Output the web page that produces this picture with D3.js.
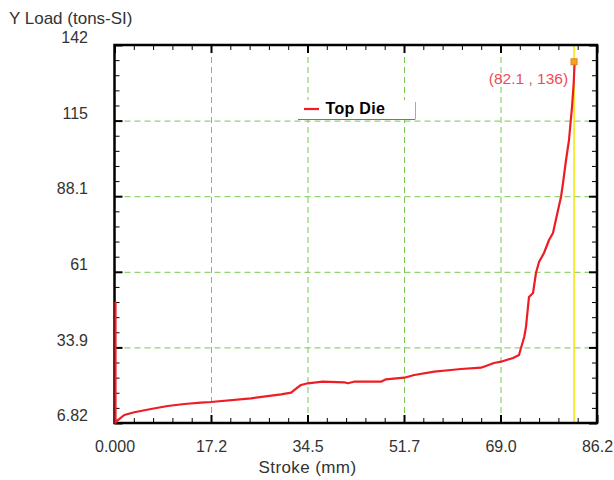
<!doctype html>
<html lang="en">
<head>
  <meta charset="utf-8">
  <style>
    body { margin: 0; background: #fff; }
    svg text { font-family: "Liberation Sans", Arial, sans-serif; }
  </style>
</head>
<body>
  <script src="https://d3js.org/d3.v7.min.js"></script>
  <div id="chart"></div>
  <script>
  // tick labels
  var xTicks = [0, 17.24, 34.48, 51.72, 68.96, 86.2];
  var xTickLabels = ["0.000", "17.2", "34.5", "51.7", "69.0", "86.2"];
  var yTicks = [6.82, 33.856, 60.892, 87.928, 114.964, 142];
  var yTickLabels = ["6.82", "33.9", "61", "88.1", "115", "142"];

  // Top Die curve: stroke (mm) vs load (tons-SI)
  var stroke = [0, 0, 0.09, 1.57, 3.36, 6.34, 9.33, 12.30, 15.27, 17.06, 24.21,
    29.58, 31.37, 32.55, 33.14, 34.34, 37.02, 40.88, 41.48, 42.61, 47.43, 48.33,
    51.59, 53.38, 56.95, 59.94, 61.72, 65.30, 67.62, 68.87, 71.01, 72.09, 72.44,
    73.03, 73.34, 73.87, 74.59, 75.12, 75.66, 76.55, 77.45, 78.16, 79.06, 79.59,
    79.95, 80.49, 81.02, 81.56, 81.86, 82.0, 82.1];
  var load = [50.2, 6.9, 7.28, 9.68, 10.65, 11.83, 12.90, 13.62, 14.08, 14.33, 15.65,
    17.08, 17.66, 19.59, 20.41, 21.02, 21.59, 21.38, 21.02, 21.59, 21.59, 22.45,
    23.02, 23.99, 25.17, 25.77, 26.13, 26.60, 28.28, 28.74, 30.07, 31.14, 33.64,
    37.68, 41.26, 51.88, 53.31, 60.46, 64.40, 67.62, 72.26, 74.77, 83.00, 87.64,
    92.65, 100.88, 108.03, 119.93, 128.3, 134.85, 136];

  var seriesName = "Top Die";
  var cursorX = 82.1, cursorY = 136;

  var width = 614, height = 480;
  var margin = {top: 45, right: 17, bottom: 57, left: 114.5};
  var w = width - margin.left - margin.right,
      h = height - margin.top - margin.bottom;

  var svg = d3.select("#chart").append("svg")
      .attr("width", width)
      .attr("height", height);

  var x = d3.scaleLinear().domain([0, 86.2]).range([0, w]);
  var y = d3.scaleLinear().domain([6.82, 142]).range([h, 0]);

  var g = svg.append("g")
      .attr("transform", "translate(" + margin.left + "," + margin.top + ")");

  // minor tick positions (5 divisions per major)
  var xMinor = [], yMinor = [];
  for (var i = 0; i < xTicks.length - 1; i++) {
    for (var j = 1; j < 5; j++) {
      xMinor.push(xTicks[i] + (xTicks[i + 1] - xTicks[i]) * j / 5);
      yMinor.push(yTicks[i] + (yTicks[i + 1] - yTicks[i]) * j / 5);
    }
  }

  // grid
  var gridCol = "#78c850";
  g.append("g")
    .attr("class", "grid")
    .attr("transform", "translate(0," + h + ")")
    .call(d3.axisBottom(x).tickValues(xTicks.slice(1, -1)).tickSize(-h).tickFormat(""))
    .call(function(s) { s.select(".domain").remove(); });
  g.append("g")
    .attr("class", "grid")
    .call(d3.axisLeft(y).tickValues(yTicks.slice(1, -1)).tickSize(-w).tickFormat(""))
    .call(function(s) { s.select(".domain").remove(); });
  g.selectAll(".grid line")
    .attr("stroke", gridCol)
    .attr("stroke-width", 1)
    .attr("stroke-dasharray", "6,4");

  // cursor line
  g.append("line")
    .attr("x1", x(cursorX)).attr("x2", x(cursorX))
    .attr("y1", 0).attr("y2", h)
    .attr("stroke", "#f2e600")
    .attr("stroke-width", 1.5);

  // axes: inward ticks on all four sides
  function noLabel(s) { s.selectAll("text").remove(); s.select(".domain").remove(); }

  function sideAxes(axisFn, scale, majors, minors, transform) {
    g.append("g").attr("transform", transform)
      .call(axisFn(scale).tickValues(minors).tickSize(-5).tickFormat(""))
      .call(noLabel)
      .selectAll("line").attr("stroke", "#000").attr("stroke-width", 1);
    g.append("g").attr("transform", transform)
      .call(axisFn(scale).tickValues(majors).tickSize(-8).tickFormat(""))
      .call(noLabel)
      .selectAll("line").attr("stroke", "#000").attr("stroke-width", 2);
  }
  sideAxes(d3.axisBottom, x, xTicks, xMinor, "translate(0," + h + ")");
  sideAxes(d3.axisTop, x, xTicks, xMinor, "translate(0,0)");
  sideAxes(d3.axisLeft, y, yTicks, yMinor, "translate(0,0)");
  sideAxes(d3.axisRight, y, yTicks, yMinor, "translate(" + w + ",0)");

  // frame
  g.append("rect")
    .attr("x", 0).attr("y", 0).attr("width", w).attr("height", h)
    .attr("fill", "none").attr("stroke", "#000").attr("stroke-width", 2.5);

  // the curve (drawn over the frame, like the original)
  var pts = stroke.map(function(d, i) { return [d, load[i]]; });
  g.append("path")
    .datum(pts)
    .attr("fill", "none")
    .attr("stroke", "#ee1c24")
    .attr("stroke-width", 2.2)
    .attr("stroke-linejoin", "round")
    .attr("transform", "translate(1,0)")
    .attr("d", d3.line().x(function(d) { return x(d[0]); }).y(function(d) { return y(d[1]); }));

  // tick labels
  var xl = g.append("g")
    .attr("transform", "translate(0," + h + ")")
    .call(d3.axisBottom(x).tickValues(xTicks).tickSize(0).tickPadding(17.3)
      .tickFormat(function(d, i) { return xTickLabels[i]; }));
  xl.select(".domain").remove();
  xl.selectAll("text").attr("font-size", 16).attr("fill", "#333")
    .attr("font-family", "Liberation Sans, Arial, sans-serif");

  var yl = g.append("g")
    .call(d3.axisLeft(y).tickValues(yTicks).tickSize(0).tickPadding(26.5)
      .tickFormat(function(d, i) { return yTickLabels[i]; }));
  yl.select(".domain").remove();
  yl.selectAll("text").attr("font-size", 16).attr("fill", "#333")
    .attr("dy", "-0.15em")
    .attr("font-family", "Liberation Sans, Arial, sans-serif");

  // axis titles
  svg.append("text")
    .attr("x", 9).attr("y", 23.5)
    .attr("font-size", 17).attr("fill", "#333")
    .text("Y Load (tons-SI)");
  svg.append("text")
    .attr("x", margin.left + x(34.48)).attr("y", 473)
    .attr("text-anchor", "middle")
    .attr("font-size", 17).attr("letter-spacing", 0.4).attr("fill", "#333")
    .text("Stroke (mm)");

  // cursor marker + readout
  g.append("rect")
    .attr("x", x(cursorX) - 3).attr("y", y(cursorY) - 3)
    .attr("width", 6).attr("height", 6)
    .attr("fill", "#f7a21b").attr("stroke", "#e8801a").attr("stroke-width", 1);
  g.append("text")
    .attr("x", x(cursorX) - 6).attr("y", y(cursorY) + 22)
    .attr("text-anchor", "end")
    .attr("font-size", 15.5).attr("fill", "#f04a5a")
    .text("(" + cursorX + " , " + cursorY + ")");

  // legend
  var lg = svg.append("g").attr("transform", "translate(298,100)");
  lg.append("rect").attr("x", 0).attr("y", 0).attr("width", 117).attr("height", 19)
    .attr("fill", "#fff");
  lg.append("line").attr("x1", 0).attr("x2", 117).attr("y1", 19.5).attr("y2", 19.5)
    .attr("stroke", "#777").attr("stroke-width", 1);
  lg.append("line").attr("x1", 117.5).attr("x2", 117.5).attr("y1", 2).attr("y2", 19.5)
    .attr("stroke", "#aaa").attr("stroke-width", 1);
  lg.append("line").attr("x1", 6).attr("x2", 21).attr("y1", 9).attr("y2", 9)
    .attr("stroke", "#ee1c24").attr("stroke-width", 2.2);
  lg.append("text").attr("x", 27.5).attr("y", 13.5)
    .attr("font-size", 16).attr("font-weight", "bold")
    .attr("letter-spacing", 0.3)
    .attr("fill", "#000")
    .text(seriesName);
  </script>
</body>
</html>
